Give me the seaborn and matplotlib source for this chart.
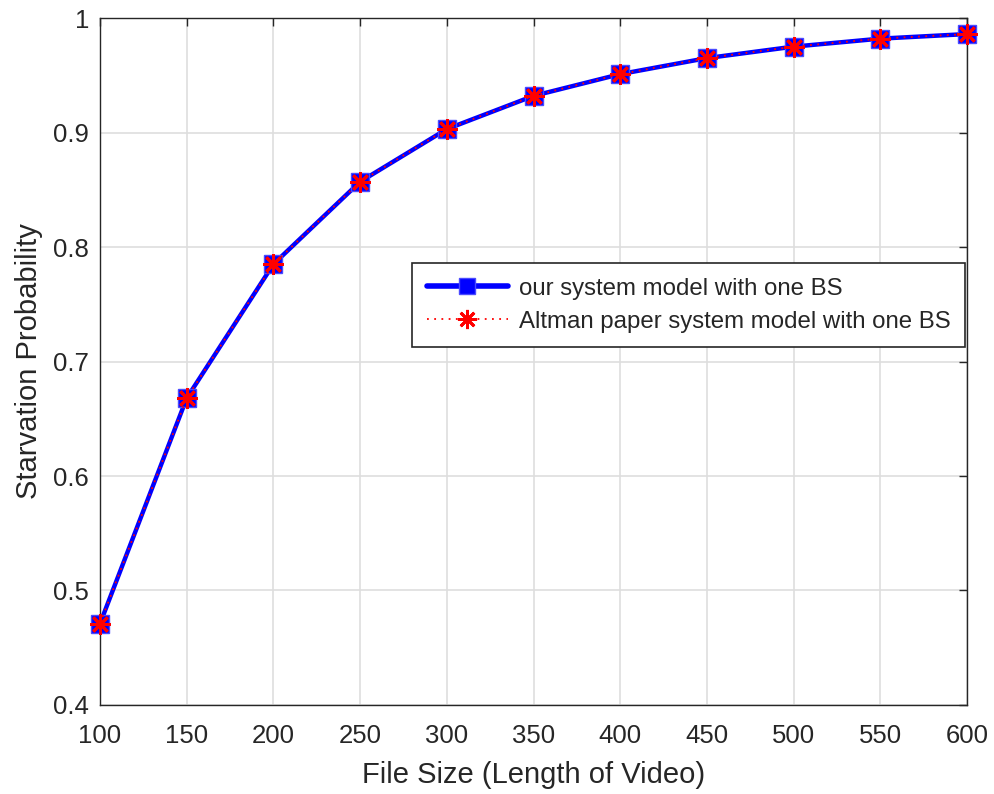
import matplotlib
matplotlib.use("Agg")
import matplotlib.pyplot as plt
import seaborn as sns
import pandas as pd

file_size = [100, 150, 200, 250, 300, 350, 400, 450, 500, 550, 600]
ours = [0.471, 0.668, 0.785, 0.857, 0.903, 0.932, 0.951, 0.965, 0.975, 0.982, 0.986]
altman = [0.471, 0.668, 0.785, 0.857, 0.903, 0.932, 0.951, 0.965, 0.975, 0.982, 0.986]
labels = ["our system model with one BS", "Altman paper system model with one BS"]
xticks = [100, 150, 200, 250, 300, 350, 400, 450, 500, 550, 600]
yticks = [0.4, 0.5, 0.6, 0.7, 0.8, 0.9, 1.0]
ytick_labels = ["0.4", "0.5", "0.6", "0.7", "0.8", "0.9", "1"]

sns.set_style("white")
plt.rcParams["font.family"] = ["Liberation Sans", "DejaVu Sans"]

df = pd.DataFrame({"x": file_size + file_size,
                   "y": ours + altman,
                   "series": [labels[0]] * len(file_size) + [labels[1]] * len(file_size)})

fig = plt.figure(figsize=(9.95, 7.94), dpi=100)
ax = fig.add_axes([0.1005, 0.1121, 0.8714, 0.8652])

sns.lineplot(data=df[df.series == labels[0]], x="x", y="y", ax=ax, color="blue",
             linewidth=3.2, marker="s", markersize=12.5, markerfacecolor="blue",
             markeredgecolor="#4a4aff", markeredgewidth=1.0, label=labels[0],
             clip_on=False, zorder=3)
sns.lineplot(data=df[df.series == labels[1]], x="x", y="y", ax=ax, color="red",
             linewidth=1.3, linestyle=(0, (1, 3)), marker=(8, 2, 0), markersize=14.5,
             markeredgecolor="red", markeredgewidth=2.0, label=labels[1],
             clip_on=False, zorder=4)

ax.set_xlim(100, 600)
ax.set_ylim(0.4, 1.0)
ax.set_xticks(xticks)
ax.set_yticks(yticks)
ax.set_yticklabels(ytick_labels)
ax.grid(True, color="#dedede", linewidth=1.2)
ax.set_axisbelow(True)
for s in ax.spines.values():
    s.set_color("#262626")
    s.set_linewidth(1.0)
    s.set_zorder(2.5)
ax.tick_params(direction="in", length=6, width=1.0, colors="#262626",
               labelsize=18.5, top=True, right=True, pad=8)
ax.tick_params(axis="x", pad=14)
for lbl in ax.get_xticklabels() + ax.get_yticklabels():
    lbl.set_color("#262626")
ax.set_xlabel("File Size (Length of Video)", fontsize=21, color="#262626", labelpad=9)
ax.set_ylabel("Starvation Probability", fontsize=21, color="#262626", labelpad=7)

leg = ax.legend(loc="upper right", bbox_to_anchor=(0.998, 0.643), fontsize=17.3,
                frameon=True, fancybox=False, edgecolor="#262626", framealpha=1,
                borderpad=0.6, handlelength=3.4, labelspacing=0.45, handletextpad=0.45,
                borderaxespad=0, markerscale=0.95)
leg.get_frame().set_linewidth(1.2)
leg.get_lines()[0].set_linewidth(4)

fig.savefig("out.png", dpi=100)
